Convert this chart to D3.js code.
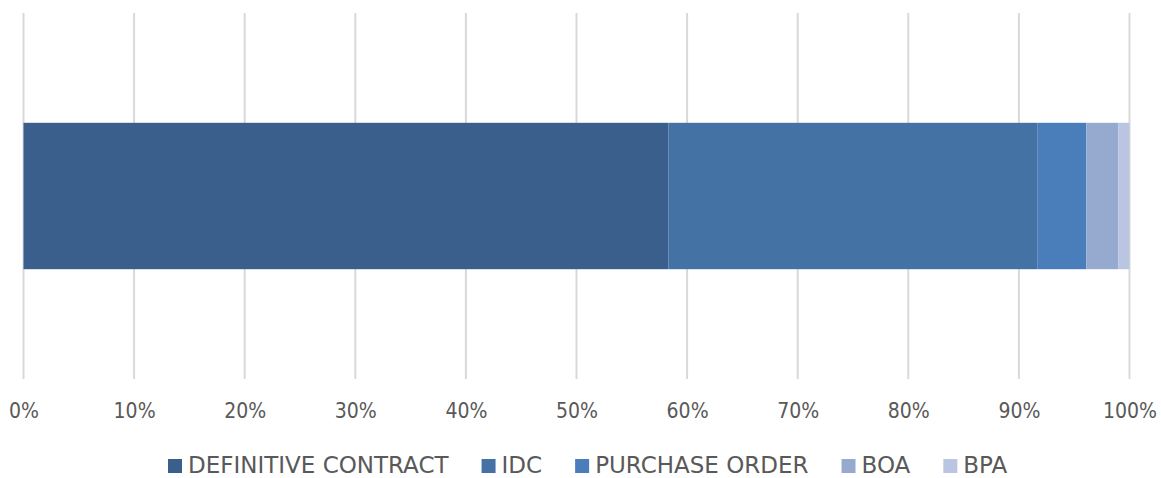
<!DOCTYPE html>
<html>
<head>
<meta charset="utf-8">
<script src="https://cdn.jsdelivr.net/npm/d3@7"></script>
<style>
    body { margin: 0; background: #fff; }
    text { font-family: "DejaVu Sans Condensed", "DejaVu Sans", sans-serif; fill: #595959; }
</style>
</head>
<body>
<div id="chart"></div>
<script>
var categories = ["DEFINITIVE CONTRACT", "IDC", "PURCHASE ORDER", "BOA", "BPA"];
var shares = [58.3, 33.4, 4.4, 2.9, 1.0];
var colors = ["#3B5F8D", "#4472A5", "#4A7EBB", "#95AACE", "#BAC6E1"];
var tickValues = [0, 10, 20, 30, 40, 50, 60, 70, 80, 90, 100];

var svgWidth = 1161;
var svgHeight = 478;

var margin = {
    top: 13,
    right: 31.5,
    bottom: 99,
    left: 23.5
};

var width = svgWidth - margin.left - margin.right;
var height = svgHeight - margin.top - margin.bottom;

var svg = d3.select("#chart")
    .append("svg")
    .attr("width", svgWidth)
    .attr("height", svgHeight);

var chartGroup = svg.append("g")
    .attr("transform", `translate(${margin.left}, ${margin.top})`);

var xScale = d3.scaleLinear()
    .domain([0, 100])
    .range([0, width]);

var yScale = d3.scaleBand()
    .domain(["all"])
    .range([0, height])
    .paddingInner(0.6)
    .paddingOuter(0.3);

// gridlines
chartGroup.selectAll(".grid")
    .data(tickValues)
    .enter()
    .append("line")
    .attr("x1", d => xScale(d))
    .attr("x2", d => xScale(d))
    .attr("y1", 0)
    .attr("y2", height)
    .attr("stroke", "#D9D9D9")
    .attr("stroke-width", 2);

// stacked segments
var stacked = [];
var acc = 0;
shares.forEach(function (v, i) {
    stacked.push({ name: categories[i], x0: acc, x1: acc + v, color: colors[i] });
    acc += v;
});

chartGroup.selectAll(".seg")
    .data(stacked)
    .enter()
    .append("rect")
    .attr("x", d => xScale(d.x0))
    .attr("width", d => xScale(d.x1) - xScale(d.x0))
    .attr("y", yScale("all"))
    .attr("height", yScale.bandwidth())
    .attr("fill", d => d.color);

// x axis labels
var xAxis = d3.axisBottom(xScale)
    .tickValues(tickValues)
    .tickFormat(d => d + "%")
    .tickSize(0)
    .tickPadding(24);

var axisG = chartGroup.append("g")
    .attr("transform", `translate(0, ${height})`)
    .call(xAxis);
axisG.select(".domain").remove();
axisG.selectAll("text")
    .attr("font-size", "21px")
    .attr("font-family", null)
    .style("fill", "#595959");

// legend
var legend = svg.append("g")
    .attr("transform", "translate(168, 458)");

var lx = 0;
categories.forEach(function (name, i) {
    var item = legend.append("g").attr("transform", `translate(${lx}, 0)`);
    item.append("rect")
        .attr("y", 1)
        .attr("width", 14)
        .attr("height", 14)
        .attr("fill", colors[i]);
    var t = item.append("text")
        .attr("x", 20)
        .attr("y", 15)
        .attr("font-size", "23px")
        .style("font-family", "'DejaVu Sans', sans-serif")
        .text(name);
    lx += 20 + t.node().getComputedTextLength() + 33;
});
</script>
</body>
</html>
